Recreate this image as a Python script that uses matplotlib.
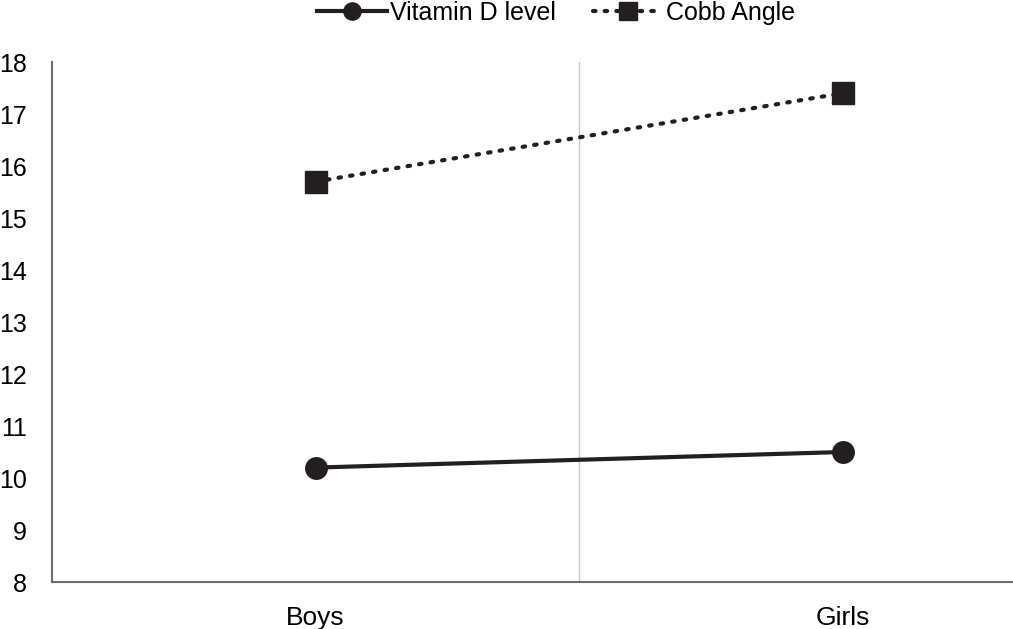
import numpy as np
import matplotlib
matplotlib.use('Agg')
import matplotlib.pyplot as plt

plt.rcParams['font.family'] = ['Liberation Sans', 'DejaVu Sans']

groups = ['Boys', 'Girls']
vitamin_d = [10.2, 10.5]
cobb_angle = [15.7, 17.4]
yticks = list(range(8, 19))

ink = '#231f20'

fig = plt.figure(figsize=(10.13, 6.29), dpi=100)
# right side of the plot area is cut off in the original
ax = fig.add_axes([52 / 1013, 47 / 629, 1054 / 1013, 520 / 629])

x = np.arange(len(groups))
ax.plot(x, vitamin_d, color=ink, lw=3, marker='o', ms=15.5,
        label='Vitamin D level')
ax.plot(x, cobb_angle, color=ink, lw=3, ls=(0, (0.6, 2.2)),
        dash_capstyle='round', marker='s', ms=16, label='Cobb Angle')

ax.set_xlim(-0.5, 1.5)
ax.set_ylim(8, 18)
ax.set_xticks(x)
ax.set_xticklabels(groups)
ax.set_yticks(yticks)
ax.set_xticks([0.5], minor=True)
ax.grid(which='minor', axis='x', color='#c8c8c8', lw=1)
ax.tick_params(which='both', length=0, labelsize=19, colors='black')
ax.tick_params(axis='y', labelsize=18, pad=18)
ax.tick_params(axis='x', pad=17)

for side in ['top', 'right']:
    ax.spines[side].set_visible(False)
for side in ['left', 'bottom']:
    ax.spines[side].set_color('#6d6d6d')
    ax.spines[side].set_linewidth(1.5)

fig.legend(*ax.get_legend_handles_labels(), loc='center',
           bbox_to_anchor=(556 / 1013, 1 - 13 / 629),
           ncol=2, frameon=False, fontsize=18, handlelength=2.8,
           handletextpad=0.1, columnspacing=1.5, markerscale=0.8,
           borderpad=0)

fig.savefig('out.png', dpi=100)
